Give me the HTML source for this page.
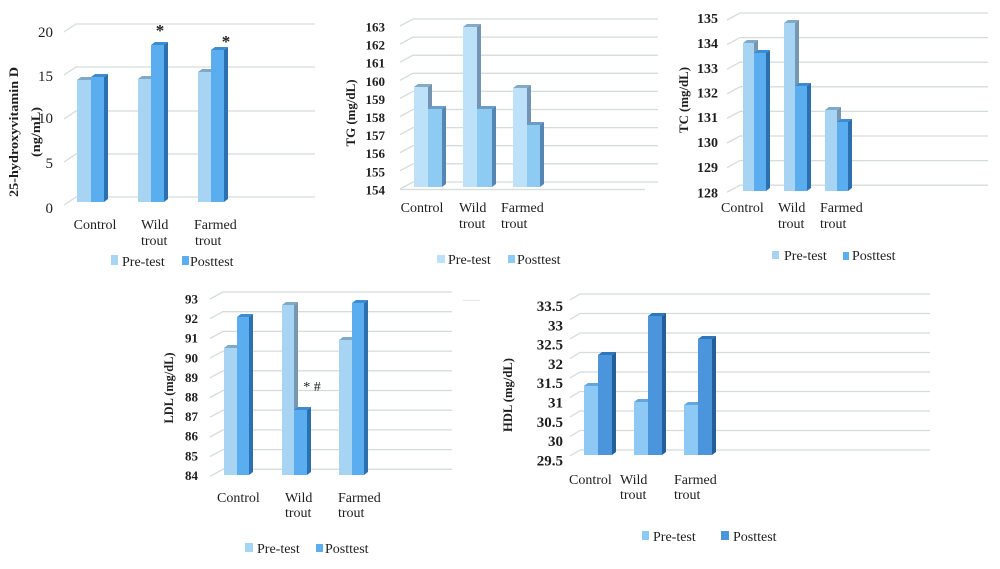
<!DOCTYPE html>
<html>
<head>
<meta charset="utf-8">
<style>
html,body{margin:0;padding:0;background:#fff;}
svg{display:block;}
text{font-family:"Liberation Serif",serif;fill:#1e1e1e;}
.g{stroke:#d5dcdc;stroke-width:1.3;fill:none;}
.t15{font-size:15px;}
.t13b{font-size:13px;font-weight:bold;}
.t14b{font-size:14px;font-weight:bold;}
.t15b{font-size:15px;font-weight:bold;}
.ttl{font-size:13px;font-weight:bold;}
.xl{font-size:14px;}
.lg{font-size:14px;}
</style>
</head>
<body>
<svg width="1000" height="569" viewBox="0 0 1000 569" xmlns="http://www.w3.org/2000/svg">
<rect width="1000" height="569" fill="#fff"/>

<!-- ================= PANEL 1 : Vitamin D ================= -->
<g class="g">
<polyline points="64,32 76,24 315,24"/>
<polyline points="64,75 76,67 315,67"/>
<polyline points="64,119 76,111 315,111"/>
<polyline points="64,162 76,154 315,154"/>
<polyline points="64,205 76,197 315,197"/>
</g>
<g class="t15" text-anchor="end">
<text x="53" y="37">20</text>
<text x="53" y="81">15</text>
<text x="53" y="123">10</text>
<text x="53" y="168">5</text>
<text x="53" y="213">0</text>
</g>
<!-- bars -->
<g>
<rect x="77" y="80" width="14" height="122" fill="#a8d4f3"/>
<polygon points="77,80 81,77 95,77 91,80" fill="#80a9c6"/>
<rect x="91" y="77" width="13" height="125" fill="#5aaef0"/>
<polygon points="91,77 95,74 108,74 104,77" fill="#3d8bd0"/>
<polygon points="104,77 108,74 108,199 104,202" fill="#2c70b0"/>

<rect x="138" y="79" width="13" height="123" fill="#a8d4f3"/>
<polygon points="138,79 142,76 155,76 151,79" fill="#80a9c6"/>
<rect x="151" y="45" width="13" height="157" fill="#5aaef0"/>
<polygon points="151,45 155,42 168,42 164,45" fill="#3d8bd0"/>
<polygon points="164,45 168,42 168,199 164,202" fill="#2c70b0"/>

<rect x="198" y="72" width="13" height="130" fill="#a8d4f3"/>
<polygon points="198,72 202,69 215,69 211,72" fill="#80a9c6"/>
<rect x="211" y="50" width="13" height="152" fill="#5aaef0"/>
<polygon points="211,50 215,47 228,47 224,50" fill="#3d8bd0"/>
<polygon points="224,50 228,47 228,199 224,202" fill="#2c70b0"/>
</g>
<text x="160" y="36" font-size="17" font-weight="bold" text-anchor="middle">*</text>
<text x="226" y="47" font-size="17" font-weight="bold" text-anchor="middle">*</text>
<text class="ttl" transform="translate(18,132) rotate(-90)" text-anchor="middle" textLength="130" lengthAdjust="spacingAndGlyphs">25-hydroxyvitamin D</text>
<text class="ttl" transform="translate(40,132) rotate(-90)" text-anchor="middle" textLength="50" lengthAdjust="spacingAndGlyphs">(ng/mL)</text>
<g class="xl">
<text x="95" y="229" text-anchor="middle">Control</text>
<text x="141" y="229">Wild</text>
<text x="141" y="245">trout</text>
<text x="194" y="229">Farmed</text>
<text x="195" y="245">trout</text>
</g>
<rect x="111" y="255" width="7" height="10" fill="#a8d4f3"/>
<text class="lg" x="122" y="266">Pre-test</text>
<rect x="182" y="256" width="7" height="9" fill="#5aaef0"/>
<text class="lg" x="190" y="266">Posttest</text>

<!-- ================= PANEL 2 : TG ================= -->
<g class="g">
<polyline points="400,26 413,19 658,19"/>
<polyline points="400,44.1 413,37.1 658,37.1"/>
<polyline points="400,62.2 413,55.2 658,55.2"/>
<polyline points="400,80.3 413,73.3 658,73.3"/>
<polyline points="400,98.4 413,91.4 658,91.4"/>
<polyline points="400,116.5 413,109.5 658,109.5"/>
<polyline points="400,134.6 413,127.6 658,127.6"/>
<polyline points="400,152.7 413,145.7 658,145.7"/>
<polyline points="400,170.8 413,163.8 658,163.8"/>
<polyline points="400,189 413,182 658,182"/>
<line x1="400" y1="189.5" x2="645" y2="189.5"/>
</g>
<g class="t13b" text-anchor="end">
<text x="385" y="31.5">163</text>
<text x="385" y="49.6">162</text>
<text x="385" y="67.7">161</text>
<text x="385" y="85.8">160</text>
<text x="385" y="103.9">159</text>
<text x="385" y="122">158</text>
<text x="385" y="140.1">157</text>
<text x="385" y="158.2">156</text>
<text x="385" y="176.3">155</text>
<text x="385" y="194.4">154</text>
</g>
<g>
<rect x="414" y="87" width="14" height="100" fill="#bde1f8"/>
<polygon points="414,87 418,84 432,84 428,87" fill="#86a9c4"/>
<polygon points="428,87 432,84 432,184 428,187" fill="#7395b3"/>
<rect x="428" y="109" width="14" height="78" fill="#8ecbf3"/>
<polygon points="428,109 432,106 446,106 442,109" fill="#6d9cc6"/>
<polygon points="442,109 446,106 446,184 442,187" fill="#5686b6"/>

<rect x="463" y="27" width="14" height="160" fill="#bde1f8"/>
<polygon points="463,27 467,24 481,24 477,27" fill="#86a9c4"/>
<polygon points="477,27 481,24 481,184 477,187" fill="#7395b3"/>
<rect x="477" y="109" width="15" height="78" fill="#8ecbf3"/>
<polygon points="477,109 481,106 496,106 492,109" fill="#6d9cc6"/>
<polygon points="492,109 496,106 496,184 492,187" fill="#5686b6"/>

<rect x="513" y="88" width="14" height="99" fill="#bde1f8"/>
<polygon points="513,88 517,85 531,85 527,88" fill="#86a9c4"/>
<polygon points="527,88 531,85 531,184 527,187" fill="#7395b3"/>
<rect x="527" y="125" width="13" height="62" fill="#8ecbf3"/>
<polygon points="527,125 531,122 544,122 540,125" fill="#6d9cc6"/>
<polygon points="540,125 544,122 544,184 540,187" fill="#5686b6"/>
</g>
<text class="ttl" transform="translate(355,113) rotate(-90)" text-anchor="middle" textLength="67" lengthAdjust="spacingAndGlyphs">TG (mg/dL)</text>
<g class="xl">
<text x="422" y="212" text-anchor="middle">Control</text>
<text x="459" y="212">Wild</text>
<text x="459" y="228">trout</text>
<text x="501" y="212">Farmed</text>
<text x="501" y="228">trout</text>
</g>
<rect x="437" y="255" width="8" height="8" fill="#bde1f8"/>
<text class="lg" x="448" y="264">Pre-test</text>
<rect x="508" y="255" width="7" height="8" fill="#8ecbf3"/>
<text class="lg" x="517" y="264">Posttest</text>

<!-- ================= PANEL 3 : TC ================= -->
<g class="g">
<polyline points="727,20 740,13 988,13"/>
<polyline points="727,44.6 740,37.6 988,37.6"/>
<polyline points="727,69.2 740,62.2 988,62.2"/>
<polyline points="727,93.8 740,86.8 988,86.8"/>
<polyline points="727,118.4 740,111.4 988,111.4"/>
<polyline points="727,143 740,136 988,136"/>
<polyline points="727,167.6 740,160.6 988,160.6"/>
<polyline points="727,192.2 740,185.2 988,185.2"/>
</g>
<g class="t14b" text-anchor="end">
<text x="718" y="23">135</text>
<text x="718" y="48">134</text>
<text x="718" y="73">133</text>
<text x="718" y="97.5">132</text>
<text x="718" y="122">131</text>
<text x="718" y="147">130</text>
<text x="718" y="172">129</text>
<text x="718" y="197.5">128</text>
</g>
<g>
<rect x="743" y="43" width="11" height="148" fill="#a8d4f3"/>
<polygon points="743,43 747,40 758,40 754,43" fill="#80a9c6"/>
<polygon points="754,43 758,40 758,188 754,191" fill="#7696b1"/>
<rect x="754" y="53" width="12" height="138" fill="#5aaef0"/>
<polygon points="754,53 758,50 770,50 766,53" fill="#3d8bd0"/>
<polygon points="766,53 770,50 770,188 766,191" fill="#2c70b0"/>

<rect x="784" y="23" width="11" height="168" fill="#a8d4f3"/>
<polygon points="784,23 788,20 799,20 795,23" fill="#80a9c6"/>
<polygon points="795,23 799,20 799,188 795,191" fill="#7696b1"/>
<rect x="795" y="86" width="12" height="105" fill="#5aaef0"/>
<polygon points="795,86 799,83 811,83 807,86" fill="#3d8bd0"/>
<polygon points="807,86 811,83 811,188 807,191" fill="#2c70b0"/>

<rect x="825" y="110" width="12" height="81" fill="#a8d4f3"/>
<polygon points="825,110 829,107 841,107 837,110" fill="#80a9c6"/>
<polygon points="837,110 841,107 841,188 837,191" fill="#7696b1"/>
<rect x="837" y="122" width="11" height="69" fill="#5aaef0"/>
<polygon points="837,122 841,119 852,119 848,122" fill="#3d8bd0"/>
<polygon points="848,122 852,119 852,188 848,191" fill="#2c70b0"/>
</g>
<text class="ttl" transform="translate(688,100) rotate(-90)" text-anchor="middle" textLength="66" lengthAdjust="spacingAndGlyphs">TC (mg/dL)</text>
<g class="xl">
<text x="721" y="212">Control</text>
<text x="778" y="212">Wild</text>
<text x="778" y="228">trout</text>
<text x="820" y="212">Farmed</text>
<text x="820" y="228">trout</text>
</g>
<rect x="772" y="251" width="7" height="8" fill="#a8d4f3"/>
<text class="lg" x="784" y="260">Pre-test</text>
<rect x="843" y="252" width="6" height="8" fill="#5aaef0"/>
<text class="lg" x="852" y="260">Posttest</text>

<!-- ================= PANEL 4 : LDL ================= -->
<g class="g">
<polyline points="210,299 223,292 452,292"/>
<polyline points="210,318.7 223,311.7 452,311.7"/>
<polyline points="210,338.4 223,331.4 452,331.4"/>
<polyline points="210,358.1 223,351.1 452,351.1"/>
<polyline points="210,377.8 223,370.8 452,370.8"/>
<polyline points="210,397.5 223,390.5 452,390.5"/>
<polyline points="210,417.2 223,410.2 452,410.2"/>
<polyline points="210,436.9 223,429.9 452,429.9"/>
<polyline points="210,456.6 223,449.6 452,449.6"/>
<polyline points="210,476.3 223,469.3 452,469.3"/>
</g>
<line x1="463" y1="300.5" x2="480" y2="300.5" stroke="#e6e8e8" stroke-width="1.2"/>
<g class="t13b" text-anchor="end">
<text x="198" y="303.5">93</text>
<text x="198" y="323.1">92</text>
<text x="198" y="342.7">91</text>
<text x="198" y="362.3">90</text>
<text x="198" y="381.9">89</text>
<text x="198" y="401.5">88</text>
<text x="198" y="421.1">87</text>
<text x="198" y="440.7">86</text>
<text x="198" y="460.3">85</text>
<text x="198" y="479.9">84</text>
</g>
<g>
<rect x="224" y="348" width="13" height="127" fill="#a8d4f3"/>
<polygon points="224,348 228,345 241,345 237,348" fill="#80a9c6"/>
<rect x="237" y="317" width="12" height="158" fill="#5aaef0"/>
<polygon points="237,317 241,314 253,314 249,317" fill="#3d8bd0"/>
<polygon points="249,317 253,314 253,472 249,475" fill="#2c70b0"/>

<rect x="282" y="305" width="12" height="170" fill="#a8d4f3"/>
<polygon points="282,305 286,302 298,302 294,305" fill="#80a9c6"/>
<polygon points="294,305 298,302 298,472 294,475" fill="#7696b1"/>
<rect x="294" y="410" width="13" height="65" fill="#5aaef0"/>
<polygon points="294,410 298,407 311,407 307,410" fill="#3d8bd0"/>
<polygon points="307,410 311,407 311,472 307,475" fill="#2c70b0"/>

<rect x="339" y="340" width="13" height="135" fill="#a8d4f3"/>
<polygon points="339,340 343,337 356,337 352,340" fill="#80a9c6"/>
<rect x="352" y="303" width="12" height="172" fill="#5aaef0"/>
<polygon points="352,303 356,300 368,300 364,303" fill="#3d8bd0"/>
<polygon points="364,303 368,300 368,472 364,475" fill="#2c70b0"/>
</g>
<text x="312" y="391" font-size="14" text-anchor="middle">* #</text>
<text class="ttl" transform="translate(173,388) rotate(-90)" text-anchor="middle" textLength="71" lengthAdjust="spacingAndGlyphs">LDL (mg/dL)</text>
<g class="xl">
<text x="217" y="502">Control</text>
<text x="285" y="502">Wild</text>
<text x="285" y="517">trout</text>
<text x="338" y="502">Farmed</text>
<text x="338" y="517">trout</text>
</g>
<rect x="245" y="543" width="8" height="9" fill="#a8d4f3"/>
<text class="lg" x="257" y="553">Pre-test</text>
<rect x="316" y="544" width="7" height="8" fill="#5aaef0"/>
<text class="lg" x="325" y="553">Posttest</text>

<!-- ================= PANEL 5 : HDL ================= -->
<g class="g">
<polyline points="570,300 580,294 930,294"/>
<polyline points="570,319.5 580,313.5 930,313.5"/>
<polyline points="570,339 580,333 930,333"/>
<polyline points="570,358.5 580,352.5 930,352.5"/>
<polyline points="570,378 580,372 930,372"/>
<polyline points="570,397.5 580,391.5 930,391.5"/>
<polyline points="570,417 580,411 930,411"/>
<polyline points="570,436.5 580,430.5 930,430.5"/>
<polyline points="570,456 580,450 930,450"/>
</g>
<g class="t15b" text-anchor="end">
<text x="563" y="311">33.5</text>
<text x="563" y="330.3">33</text>
<text x="563" y="349.6">32.5</text>
<text x="563" y="368.9">32</text>
<text x="563" y="388.2">31.5</text>
<text x="563" y="407.5">31</text>
<text x="563" y="426.8">30.5</text>
<text x="563" y="446.1">30</text>
<text x="563" y="465.4">29.5</text>
</g>
<g>
<rect x="584" y="386" width="14" height="69" fill="#8dc9f4"/>
<polygon points="584,386 588,383 602,383 598,386" fill="#63a6dc"/>
<rect x="598" y="355" width="14" height="100" fill="#4a95dc"/>
<polygon points="598,355 602,352 616,352 612,355" fill="#2f76bb"/>
<polygon points="612,355 616,352 616,452 612,455" fill="#245f98"/>

<rect x="634" y="402" width="14" height="53" fill="#8dc9f4"/>
<polygon points="634,402 638,399 652,399 648,402" fill="#63a6dc"/>
<rect x="648" y="316" width="14" height="139" fill="#4a95dc"/>
<polygon points="648,316 652,313 666,313 662,316" fill="#2f76bb"/>
<polygon points="662,316 666,313 666,452 662,455" fill="#245f98"/>

<rect x="684" y="405" width="14" height="50" fill="#8dc9f4"/>
<polygon points="684,405 688,402 702,402 698,405" fill="#63a6dc"/>
<rect x="698" y="339" width="14" height="116" fill="#4a95dc"/>
<polygon points="698,339 702,336 716,336 712,339" fill="#2f76bb"/>
<polygon points="712,339 716,336 716,452 712,455" fill="#245f98"/>
</g>
<text class="ttl" transform="translate(512,395) rotate(-90)" text-anchor="middle" textLength="74" lengthAdjust="spacingAndGlyphs">HDL (mg/dL)</text>
<g class="xl">
<text x="569" y="484">Control</text>
<text x="620" y="484">Wild</text>
<text x="620" y="499">trout</text>
<text x="674" y="484">Farmed</text>
<text x="674" y="499">trout</text>
</g>
<rect x="642" y="531" width="7" height="9" fill="#8dc9f4"/>
<text class="lg" x="653" y="541">Pre-test</text>
<rect x="721" y="531" width="8" height="9" fill="#4a95dc"/>
<text class="lg" x="733" y="541">Posttest</text>
</svg>
</body>
</html>
